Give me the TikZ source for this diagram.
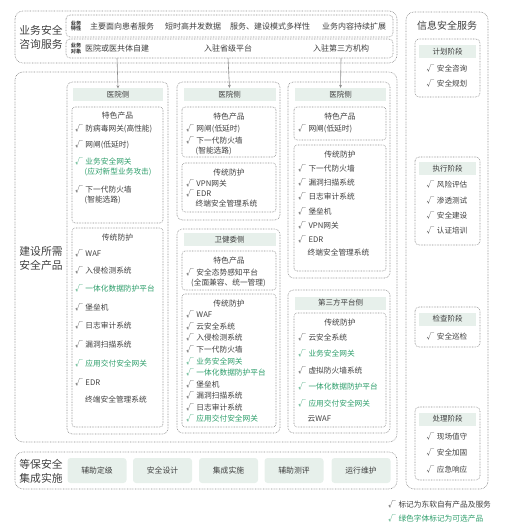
\documentclass[tikz,border=0pt]{standalone}
\usepackage{fontspec}
\usetikzlibrary{arrows.meta}
\setmainfont{Noto Sans CJK SC}
\newcommand\ckm{√\hspace{2.6pt}}
\definecolor{txt}{HTML}{404040}
\definecolor{grn}{HTML}{2E9E6B}
\definecolor{bord}{HTML}{8C8C8C}
\definecolor{hdrfill}{HTML}{E7F0EB}
\tikzset{
  dotbox/.style={draw=bord, line width=0.6pt, dash pattern=on 0.7pt off 0.9pt, rounded corners=#1},
  dotbox/.default=4,
  item/.style={anchor=west, inner sep=0pt, text=txt, font=\fontsize{7.7}{8}\selectfont},
  gitem/.style={item, text=grn},
  ttl/.style={inner sep=0pt, text=txt, font=\fontsize{7.8}{8}\selectfont},
  citem/.style={inner sep=0pt, text=txt, font=\fontsize{7.6}{8}\selectfont},
  hdr/.style={fill=hdrfill, inner sep=0pt, minimum height=13pt, text=txt, font=\fontsize{7.5}{8}\selectfont},
  bigl/.style={inner sep=0pt, text=txt, align=center, font=\fontsize{10.8}{14}\selectfont},
  tiny/.style={inner sep=0pt, text=txt, align=center, font=\bfseries\fontsize{5.2}{5.6}\selectfont},
  rowt/.style={inner sep=0pt, text=txt, font=\fontsize{8}{8}\selectfont},
  stage/.style={fill=hdrfill, rounded corners=3pt, inner sep=0pt, minimum width=59pt, minimum height=25pt, text=txt, font=\fontsize{7.8}{8}\selectfont},
  arr/.style={draw=bord, line width=0.6pt, -{Stealth[length=3pt,width=3pt]}}
}
\begin{document}
\begin{tikzpicture}[x=1pt,y=-1pt]
\useasboundingbox (0,0) rectangle (505,526);
% ---------- top: business consulting ----------
\draw[dotbox=8] (15,11) rectangle (397,63);
\node[bigl] (lab1) at (41,37) {业务安全\\咨询服务};
\draw[dotbox=4] (66,15) rectangle (393,37);
\draw[dotbox=4] (66,39) rectangle (393,58);
\coordinate (r2b) at (229.5,58);
\node[tiny] (t1) at (76,26) {业务\\特性};
\node[tiny] (t2) at (76,48.5) {业务\\对象};
\node[rowt] (p1) at (122,26) {主要面向患者服务};
\node[rowt] (p2) at (193,26) {短时高并发数据};
\node[rowt] (p3) at (270,26) {服务、建设模式多样性};
\node[rowt] (p4) at (354,26) {业务内容持续扩展};
\node[rowt] (o1) at (117,48.5) {医院或医共体自建};
\node[rowt] (o2) at (228,48.5) {入驻省级平台};
\node[rowt] (o3) at (341,48.5) {入驻第三方机构};
% ---------- middle: products ----------
\draw[dotbox=8] (15,72) rectangle (397,442);
\node[bigl] (lab2) at (41,258) {建设所需\\安全产品};
% column 1
\draw[dotbox=5] (67,82) rectangle (168,434);
\node[hdr, minimum width=90pt] (h1) at (118,95) {医院侧};
\draw[dotbox=3] (72,107) rectangle (163,223);
\node[ttl] (c1t) at (117.5,116) {特色产品};
\node[item] (c1a) at (75,129) {\ckm 防病毒网关(高性能)};
\node[item] (c1b) at (75,145) {\ckm 网闸(低延时)};
\node[gitem] (c1c) at (75,161) {\ckm 业务安全网关};
\node[gitem] (c1d) at (84.5,172) {(应对新型业务攻击)};
\node[item] (c1e) at (75,189) {\ckm 下一代防火墙};
\node[item] (c1f) at (84.5,200) {(智能选路)};
\draw[dotbox=3] (72,228) rectangle (163,427);
\node[ttl] (c1u) at (117.5,238) {传统防护};
\node[item] (c1g) at (75,253) {\ckm WAF};
\node[item] (c1h) at (75,270) {\ckm 入侵检测系统};
\node[gitem] (c1i) at (75,288) {\ckm 一体化数据防护平台};
\node[item] (c1j) at (75,307) {\ckm 堡垒机};
\node[item] (c1k) at (75,325) {\ckm 日志审计系统};
\node[item] (c1l) at (75,344) {\ckm 漏洞扫描系统};
\node[gitem] (c1m) at (75,363) {\ckm 应用交付安全网关};
\node[item] (c1n) at (75,382) {\ckm EDR};
\node[item] (c1o) at (85,400) {终端安全管理系统};
% column 2 top
\draw[dotbox=5] (177,82) rectangle (280,220);
\node[hdr, minimum width=92pt] (h2) at (229.5,94.5) {医院侧};
\draw[dotbox=3] (182,107) rectangle (276,157);
\node[ttl] (c2t) at (229,117) {特色产品};
\node[item] (c2a) at (186,128.5) {\ckm 网闸(低延时)};
\node[item] (c2b) at (186,140) {\ckm 下一代防火墙};
\node[item] (c2c) at (195.5,151) {(智能选路)};
\draw[dotbox=3] (182,163) rectangle (276,212);
\node[ttl] (c2u) at (229,173) {传统防护};
\node[item] (c2d) at (186,183) {\ckm VPN网关};
\node[item] (c2e) at (186,193.5) {\ckm EDR};
\node[item] (c2f) at (195.5,204) {终端安全管理系统};
% column 2 bottom
\draw[dotbox=5] (177,229) rectangle (280,433);
\node[hdr, minimum width=92pt] (h4) at (229.5,239.5) {卫健委侧};
\draw[dotbox=3] (182,251) rectangle (276,290);
\node[ttl] (c4t) at (229,260.5) {特色产品};
\node[item] (c4a) at (186,272) {\ckm 安全态势感知平台};
\node[item] (c4b) at (191,283) {(全面兼容、统一管理)};
\draw[dotbox=3] (182,294) rectangle (276,427);
\node[ttl] (c4u) at (229,303.5) {传统防护};
\node[item] (c4c) at (186,314.5) {\ckm WAF};
\node[item] (c4d) at (186,326) {\ckm 云安全系统};
\node[item] (c4e) at (186,337.5) {\ckm 入侵检测系统};
\node[item] (c4f) at (186,349) {\ckm 下一代防火墙};
\node[gitem] (c4g) at (186,361) {\ckm 业务安全网关};
\node[gitem] (c4h) at (186,372.5) {\ckm 一体化数据防护平台};
\node[item] (c4i) at (186,384) {\ckm 堡垒机};
\node[item] (c4j) at (186,395.5) {\ckm 漏洞扫描系统};
\node[item] (c4k) at (186,407) {\ckm 日志审计系统};
\node[gitem] (c4l) at (186,418.5) {\ckm 应用交付安全网关};
% column 3 top
\draw[dotbox=5] (288,82) rectangle (390,278);
\node[hdr, minimum width=91pt] (h3) at (340.5,94.5) {医院侧};
\draw[dotbox=3] (294,107) rectangle (386,140);
\node[ttl] (c3t) at (340,117) {特色产品};
\node[item] (c3a) at (298,128.5) {\ckm 网闸(低延时)};
\draw[dotbox=3] (294,145) rectangle (386,271);
\node[ttl] (c3u) at (340,155) {传统防护};
\node[item] (c3b) at (298,168) {\ckm 下一代防火墙};
\node[item] (c3c) at (298,182) {\ckm 漏洞扫描系统};
\node[item] (c3d) at (298,196) {\ckm 日志审计系统};
\node[item] (c3e) at (298,211) {\ckm 堡垒机};
\node[item] (c3f) at (298,225) {\ckm VPN网关};
\node[item] (c3g) at (298,239) {\ckm EDR};
\node[item] (c3h) at (307.5,253) {终端安全管理系统};
% column 3 bottom
\draw[dotbox=5] (288,290) rectangle (390,433);
\node[hdr, minimum width=91pt] (h5) at (340.5,303) {第三方平台侧};
\draw[dotbox=3] (294,313) rectangle (386,427);
\node[ttl] (c5u) at (340,323) {传统防护};
\node[item] (c5a) at (298,337) {\ckm 云安全系统};
\node[gitem] (c5b) at (298,353.5) {\ckm 业务安全网关};
\node[item] (c5c) at (298,370) {\ckm 虚拟防火墙系统};
\node[gitem] (c5d) at (298,386.5) {\ckm 一体化数据防护平台};
\node[gitem] (c5e) at (298,403) {\ckm 应用交付安全网关};
\node[item] (c5f) at (307.5,418.5) {云WAF};
% arrows
\draw[arr] (o1 |- r2b) -- (h1.north);
\draw[arr] (o2 |- r2b) -- (h2.north);
\draw[arr] (o3 |- r2b) -- (h3.north);
% ---------- bottom: integration ----------
\draw[dotbox=8] (15,452) rectangle (397,489);
\node[bigl] (lab3) at (41,471) {等保安全\\集成实施};
\node[stage] (s1) at (97,470.5) {辅助定级};
\node[stage] (s2) at (162.5,470.5) {安全设计};
\node[stage] (s3) at (228.5,470.5) {集成实施};
\node[stage] (s4) at (294,470.5) {辅助测评};
\node[stage] (s5) at (361,470.5) {运行维护};
% ---------- right: info security service ----------
\draw[dotbox=8] (406,12) rectangle (488,489);
\node[inner sep=0pt, text=txt, font=\fontsize{10}{12}\selectfont] (rt) at (447,26) {信息安全服务};
\draw[dotbox=4] (415,39) rectangle (480,97);
\node[hdr, minimum width=57pt] (g1) at (447.5,52) {计划阶段};
\node[citem] (g1a) at (447,69) {\ckm 安全咨询};
\node[citem] (g1b) at (447,83) {\ckm 安全规划};
\draw[dotbox=4] (415,157) rectangle (480,245);
\node[hdr, minimum width=57pt] (g2) at (447.5,169) {执行阶段};
\node[citem] (g2a) at (447,184.5) {\ckm 风险评估};
\node[citem] (g2b) at (447,200) {\ckm 渗透测试};
\node[citem] (g2c) at (447,215) {\ckm 安全建设};
\node[citem] (g2d) at (447,230) {\ckm 认证培训};
\draw[dotbox=4] (415,307) rectangle (480,347);
\node[hdr, minimum width=57pt] (g3) at (447.5,319) {检查阶段};
\node[citem] (g3a) at (447,336) {\ckm 安全巡检};
\draw[dotbox=4] (415,407) rectangle (480,480);
\node[hdr, minimum width=57pt] (g4) at (447.5,419) {处理阶段};
\node[citem] (g4a) at (447,436) {\ckm 现场值守};
\node[citem] (g4b) at (447,452.5) {\ckm 安全加固};
\node[citem] (g4c) at (447,469) {\ckm 应急响应};
% legend
\node[item] (lg1) at (388,504) {\ckm 标记为东软自有产品及服务};
\node[gitem] (lg2) at (388,518) {\ckm 绿色字体标记为可选产品};
\end{tikzpicture}
\end{document}
